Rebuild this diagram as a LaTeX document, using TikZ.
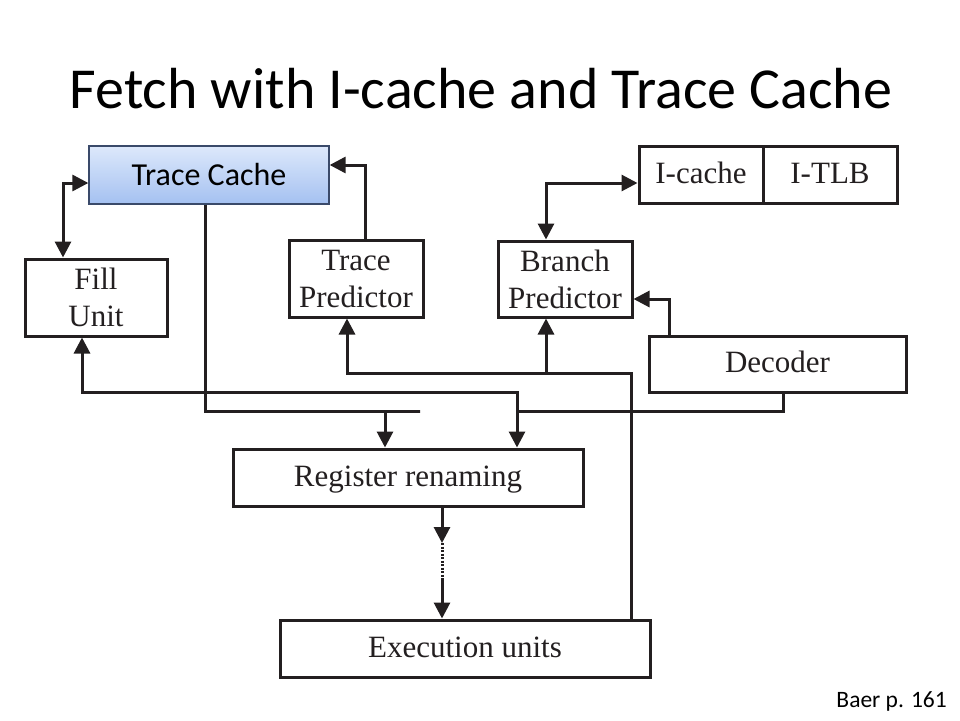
\documentclass[tikz,border=0pt]{standalone}
\usepackage{fontspec}
\setmainfont{Liberation Serif}
\newfontfamily\calibri{Carlito}
\usetikzlibrary{arrows.meta,calc}
\definecolor{ink}{HTML}{231F20}
\definecolor{tctop}{HTML}{DDE8FB}
\definecolor{tcbot}{HTML}{A4C1F1}
\definecolor{tcedge}{HTML}{3A4A6A}
\begin{document}
\begin{tikzpicture}[x=1pt,y=-1pt,
  box/.style={draw=ink,line width=3pt,inner sep=0pt,align=center,text=ink,
    font=\fontsize{31}{37}\selectfont},
  oneline/.style={text height=22pt,text depth=5pt},
  wire/.style={draw=ink,line width=3pt},
  tip/.style={-{Triangle[length=16pt,width=16pt]}},
  tips/.style={{Triangle[length=16pt,width=16pt]}-{Triangle[length=16pt,width=16pt]}}
]
\useasboundingbox (0,0) rectangle (960,720);
\fill[white] (0,0) rectangle (960,720);

% title
\node[anchor=base,font=\calibri\fontsize{58}{60}\selectfont,inner sep=0pt] (title) at (481,108) {Fetch with I-cache and Trace Cache};
\node[anchor=base east,font=\calibri\fontsize{23.5}{25}\selectfont,inner sep=0pt] (ref) at (947,707) {Baer p. 161};

% nodes
\node[draw=tcedge,line width=1.3pt,top color=tctop,bottom color=tcbot,minimum width=240pt,minimum height=58pt,inner sep=0pt,
  font=\calibri\fontsize{32}{34}\selectfont] (tc) at (209,175) {Trace Cache};
\node[box,minimum width=142pt,minimum height=77pt] (fill) at (96,297.5) {Fill\\Unit};
\node[box,minimum width=134pt,minimum height=77pt] (tp) at (356,278.5) {Trace\\Predictor};
\node[box,minimum width=134pt,minimum height=76pt] (bp) at (565,279) {Branch\\Predictor};
\node[box,oneline,minimum width=124pt,minimum height=57pt] (ic) at (701,174.5) {I-cache};
\node[box,oneline,minimum width=134pt,minimum height=57pt] (itlb) at (830,174.5) {I-TLB};
\node[box,oneline,minimum width=257pt,minimum height=56pt] (dec) at (777.5,364) {Decoder};
\node[box,oneline,minimum width=350pt,minimum height=57pt] (rr) at (408,477.5) {Register renaming};
\node[box,oneline,minimum width=370pt,minimum height=57pt] (eu) at (465,648.5) {Execution units};

% junction coordinates
\coordinate (fbk) at (546,373);
\coordinate (dj) at (517,411);
\coordinate (fj) at (517,392);
\coordinate (m1) at (442,543);
\coordinate (m2) at (442,580);

% connectors
\draw[wire,tips] ([yshift=-8pt]tc.west) -| ([xshift=-33pt]fill.north);
\draw[wire,tip] ([xshift=9pt]tp.north) |- ([yshift=10pt]tc.east);
\draw[wire,tips] ([xshift=-19pt]bp.north) |- ([yshift=-8.5pt]ic.west);
\draw[wire,tip] ([xshift=-108.5pt]dec.north) |- ([yshift=-20pt]bp.east);
\draw[wire,tip] ([xshift=166pt]eu.north) |- (fbk) -| ([xshift=-9pt]tp.south);
\draw[wire,tip] (fbk) -- ([xshift=-19pt]bp.south);
\draw[wire,tip] ([xshift=-4pt]tc.south) |- (420,411) -| ([xshift=-23pt]rr.north);
\draw[wire] ([xshift=5.5pt]dec.south) |- (dj);
\draw[wire,tip] (dj) -- ([xshift=109pt]rr.north);
\draw[wire,tip] (dj) -- (fj) -| ([xshift=-14pt]fill.south);
\draw[wire,tip] ([xshift=34pt]rr.south) -- (m1);
\draw[draw=ink,line width=3pt,dash pattern=on 2pt off 1.5pt] (m1) -- (m2);
\draw[wire,tip] (m2) -- ([xshift=-23pt]eu.north);
\end{tikzpicture}
\end{document}
